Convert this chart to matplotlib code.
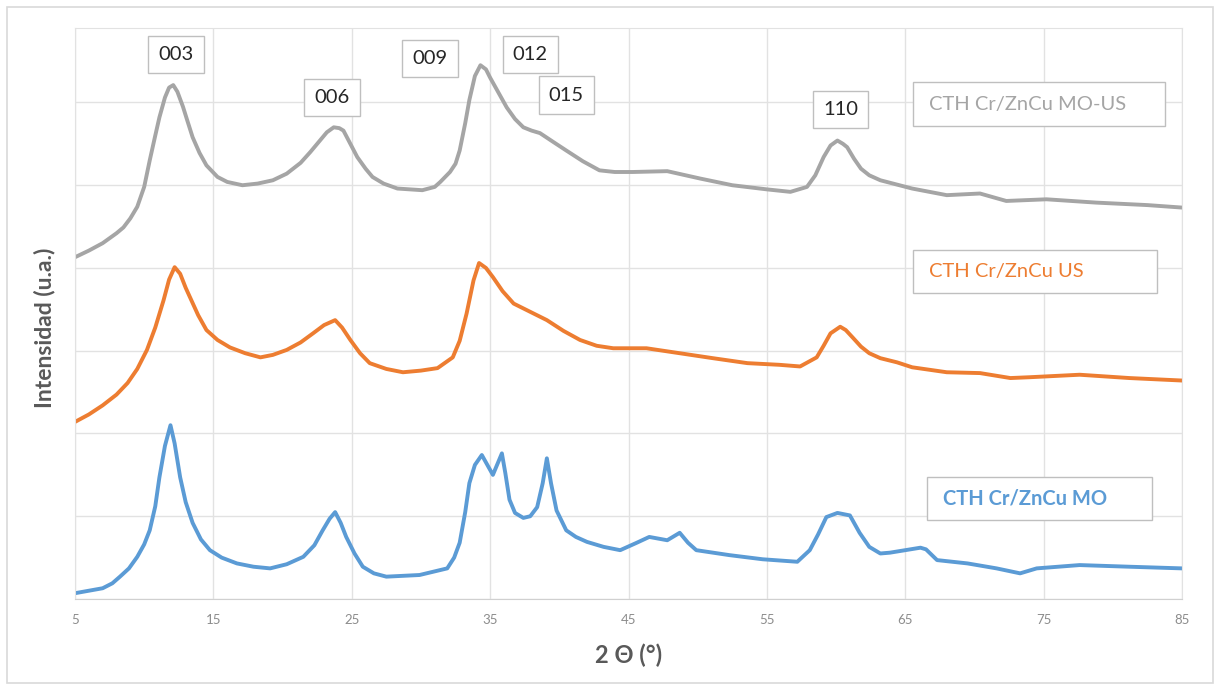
import matplotlib
matplotlib.use("Agg")
import matplotlib.pyplot as plt
from matplotlib.patches import Rectangle

plt.rcParams['font.family'] = ['Lato', 'DejaVu Sans']

# XRD patterns (2 theta, arbitrary intensity with offsets)
mo_us_x = [5.0, 6.0, 7.0, 8.0, 8.5, 9.0, 9.5, 10.0, 10.4, 10.8, 11.1, 11.5, 11.8, 12.1,
           12.4, 12.8, 13.1, 13.5, 14.0, 14.5, 15.3, 16.0, 17.1, 18.2, 19.3, 20.3, 21.3,
           22.0, 22.7, 23.2, 23.7, 24.1, 24.4, 24.9, 25.4, 26.0, 26.5, 27.3, 28.3, 30.1,
           31.0, 31.4, 32.1, 32.5, 32.8, 33.2, 33.5, 33.9, 34.3, 34.7, 35.0, 35.6, 36.2,
           36.8, 37.4, 38.0, 38.6, 39.5, 40.5, 41.7, 42.9, 44.0, 45.3, 47.8, 50.2, 52.5,
           55.0, 56.7, 57.9, 58.5, 59.1, 59.6, 60.1, 60.5, 60.8, 61.3, 61.8, 62.4, 63.2,
           65.5, 68.0, 70.4, 72.3, 75.2, 78.8, 82.5, 85.0]
mo_us_y = [4.13, 4.21, 4.30, 4.42, 4.49, 4.60, 4.74, 4.98, 5.30, 5.60, 5.82, 6.06, 6.18, 6.21,
           6.13, 5.95, 5.79, 5.58, 5.39, 5.24, 5.10, 5.04, 5.00, 5.02, 5.06, 5.14, 5.27,
           5.40, 5.54, 5.64, 5.70, 5.69, 5.66, 5.50, 5.34, 5.20, 5.10, 5.02, 4.96, 4.94,
           4.98, 5.04, 5.16, 5.26, 5.42, 5.75, 6.03, 6.32, 6.45, 6.40, 6.30, 6.12, 5.94,
           5.80, 5.70, 5.66, 5.63, 5.53, 5.42, 5.29, 5.18, 5.16, 5.16, 5.17, 5.08, 5.00,
           4.95, 4.92, 4.98, 5.12, 5.34, 5.48, 5.54, 5.50, 5.46, 5.32, 5.20, 5.12, 5.06,
           4.96, 4.88, 4.90, 4.81, 4.83, 4.79, 4.76, 4.73]

us_x = [5.0, 6.0, 7.0, 8.0, 8.8, 9.5, 10.2, 10.8, 11.4, 11.8, 12.2, 12.6, 13.0, 13.3, 13.9,
        14.5, 15.3, 16.2, 17.3, 18.4, 19.3, 20.3, 21.3, 22.2, 23.0, 23.8, 24.3, 24.9, 25.6,
        26.3, 27.5, 28.7, 30.0, 31.2, 32.3, 32.8, 33.3, 33.8, 34.2, 34.7, 35.2, 35.9, 36.7,
        37.9, 39.1, 40.3, 41.5, 42.7, 43.9, 46.3, 48.7, 51.1, 53.6, 55.9, 57.4, 58.6, 59.1,
        59.6, 60.3, 60.7, 61.2, 61.8, 62.4, 63.2, 64.4, 65.5, 68.0, 70.4, 72.6, 74.0, 77.6,
        81.2, 85.0]
us_y = [2.14, 2.23, 2.34, 2.47, 2.61, 2.78, 3.01, 3.28, 3.61, 3.86, 4.01, 3.93, 3.76, 3.65, 3.43,
        3.25, 3.13, 3.04, 2.97, 2.92, 2.95, 3.01, 3.10, 3.21, 3.31, 3.37, 3.28, 3.13, 2.97,
        2.85, 2.78, 2.74, 2.76, 2.79, 2.92, 3.12, 3.45, 3.85, 4.06, 4.00, 3.89, 3.72, 3.57,
        3.47, 3.37, 3.24, 3.13, 3.06, 3.03, 3.03, 2.97, 2.91, 2.85, 2.83, 2.81, 2.92, 3.06,
        3.21, 3.29, 3.25, 3.16, 3.05, 2.97, 2.91, 2.86, 2.80, 2.74, 2.73, 2.67, 2.68, 2.71,
        2.67, 2.64]

mo_x = [5.0, 6.0, 7.0, 7.7, 8.25, 8.9, 9.5, 10.0, 10.4, 10.8, 11.1, 11.5, 11.9, 12.2, 12.6,
        13.0, 13.5, 14.1, 14.75, 15.6, 16.7, 17.9, 19.1, 20.3, 21.5, 22.3, 22.9, 23.4, 23.8,
        24.2, 24.6, 25.2, 25.8, 26.6, 27.5, 29.9, 31.9, 32.4, 32.8, 33.2, 33.5, 33.9, 34.4,
        34.8, 35.2, 35.5, 35.85, 36.1, 36.4, 36.8, 37.4, 37.9, 38.4, 38.8, 39.1, 39.4, 39.8,
        40.5, 41.2, 42.0, 43.2, 44.4, 45.6, 46.5, 47.8, 48.7, 49.3, 49.9, 52.3, 54.7, 57.2,
        58.1, 58.7, 59.3, 60.1, 61.0, 61.7, 62.4, 63.2, 63.9, 66.1, 66.5, 67.3, 69.5, 71.6,
        73.3, 74.5, 77.6, 81.2, 85.0]
mo_y = [0.07, 0.10, 0.13, 0.19, 0.27, 0.37, 0.51, 0.66, 0.83, 1.12, 1.47, 1.85, 2.10, 1.88, 1.47,
        1.17, 0.92, 0.72, 0.59, 0.50, 0.43, 0.39, 0.37, 0.42, 0.51, 0.65, 0.83, 0.97, 1.05,
        0.92, 0.75, 0.55, 0.39, 0.31, 0.27, 0.29, 0.37, 0.50, 0.68, 1.05, 1.40, 1.62, 1.74,
        1.62, 1.50, 1.62, 1.76, 1.52, 1.20, 1.04, 0.98, 1.00, 1.11, 1.40, 1.70, 1.40, 1.07,
        0.83, 0.75, 0.69, 0.63, 0.59, 0.68, 0.75, 0.71, 0.80, 0.68, 0.59, 0.53, 0.48, 0.45,
        0.59, 0.78, 0.99, 1.04, 1.01, 0.80, 0.63, 0.55, 0.56, 0.62, 0.60, 0.47, 0.43, 0.37,
        0.31, 0.37, 0.41, 0.39, 0.37]

peak_labels = ['003', '006', '009', '012', '015', '110']
peak_label_x = [12.3, 23.57, 30.65, 37.9, 40.5, 60.35]
peak_label_y = [6.58, 6.06, 6.53, 6.58, 6.09, 5.91]

x_ticks = [5, 15, 25, 35, 45, 55, 65, 75, 85]

c_blue = '#5B9BD5'
c_orange = '#ED7D31'
c_gray = '#A5A5A5'
grid_c = '#E2E2E2'

fig = plt.figure(figsize=(12.15, 6.85), dpi=100)
fig.patches.append(Rectangle((7 / 1215, 2 / 685), 1206 / 1215, 676 / 685,
                             transform=fig.transFigure, fill=False,
                             edgecolor='#D9D9D9', linewidth=1.2))
ax = fig.add_axes([75 / 1215, 1 - 599 / 685, 1107 / 1215, 571 / 685])

ax.plot(mo_us_x, mo_us_y, color=c_gray, lw=2.8, solid_joinstyle='round')
ax.plot(us_x, us_y, color=c_orange, lw=2.8, solid_joinstyle='round')
ax.plot(mo_x, mo_y, color=c_blue, lw=2.8, solid_joinstyle='round')

ax.set_xlim(5, 85)
ax.set_ylim(0, 6.9)
ax.set_xticks(x_ticks)
ax.set_yticks(range(0, 7))
ax.set_yticklabels([])
ax.grid(True, color=grid_c, lw=1)
ax.set_axisbelow(True)
for s in ax.spines.values():
    s.set_color(grid_c)
ax.spines['bottom'].set_color('#D0D0D0')
ax.tick_params(length=0, pad=11, labelsize=9.5, labelcolor='#8C8C8C')

ax.set_xlabel('2 Θ (°)', fontsize=17, fontweight='bold', color='#595959')
ax.xaxis.set_label_coords(0.5, -0.078)
ax.set_ylabel('Intensidad (u.a.)', fontsize=16.5, fontweight='bold', color='#595959')
ax.yaxis.set_label_coords(-0.018, 0.475)

for lab, lx, ly in zip(peak_labels, peak_label_x, peak_label_y):
    ax.text(lx, ly, lab, ha='center', va='center', fontsize=14.5, color='#262626',
            bbox=dict(boxstyle='square,pad=0.5', facecolor='white',
                      edgecolor='#BFBFBF', lw=1))

# series name boxes
legend_boxes = [
    ('CTH Cr/ZnCu MO-US', c_gray, 65.55, 5.713, 18.21, 0.531, 5.98),
    ('CTH Cr/ZnCu US', c_orange, 65.55, 3.696, 17.63, 0.519, 3.955),
    ('CTH Cr/ZnCu MO', c_blue, 66.56, 0.954, 16.26, 0.519, 1.214),
]
for name, col, bx, by, bw, bh, ty in legend_boxes:
    ax.add_patch(Rectangle((bx, by), bw, bh, facecolor='white', edgecolor='#BFBFBF',
                           lw=1, zorder=4))
    ax.text(bx + 1.2, ty, name, ha='left', va='center', fontsize=14.5,
            fontweight='bold' if col == c_blue else 'normal', color=col, zorder=5)

fig.savefig('out.png', dpi=100)
